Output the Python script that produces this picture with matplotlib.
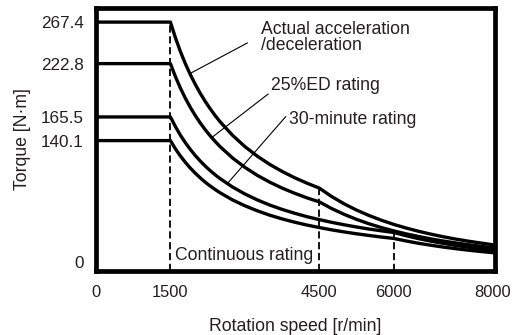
import matplotlib.pyplot as plt

plt.rcParams['font.family'] = ['Liberation Sans', 'DejaVu Sans']

# Data
speed = [0, 1500, 1600, 1700, 1800, 1900, 2000, 2100, 2200, 2300, 2400, 2500,
         2750, 3000, 3250, 3500, 3750, 4000, 4250, 4500, 4750, 5000, 5250, 5500,
         5750, 6000, 6250, 6500, 6750, 7000, 7250, 7500, 7750, 8000]
accel_decel = [267.4, 267.4, 250.7, 235.9, 222.8, 211.1, 200.6, 191.0, 182.3, 174.4, 167.1, 160.4,
               145.9, 133.7, 123.4, 114.6, 107.0, 100.3, 94.4, 89.1, 80.0, 72.2, 65.5, 59.7,
               54.6, 50.1, 46.2, 42.7, 39.6, 36.8, 34.3, 32.1, 30.1, 28.2]
ed25 = [222.8, 222.8, 208.9, 196.6, 185.7, 175.9, 167.1, 159.1, 151.9, 145.3, 139.3, 133.7,
        121.5, 111.4, 102.8, 95.5, 89.1, 83.6, 78.6, 74.3, 67.1, 60.9, 55.5, 50.8,
        46.7, 43.1, 39.9, 37.1, 34.5, 32.2, 30.2, 28.3, 26.6, 25.0]
min30 = [165.5, 165.5, 155.2, 146.0, 137.9, 130.7, 124.1, 118.2, 112.8, 107.9, 103.4, 99.3,
         90.3, 82.8, 76.4, 70.9, 66.2, 62.1, 58.4, 55.2, 52.3, 49.7, 47.3, 45.1,
         43.2, 41.4, 37.9, 34.8, 32.1, 29.7, 27.5, 25.6, 23.9, 22.3]
continuous = [140.1, 140.1, 131.3, 123.6, 116.8, 110.6, 105.1, 100.1, 95.5, 91.4, 87.6, 84.1,
              76.4, 70.1, 64.7, 60.0, 56.0, 52.5, 49.4, 46.7, 44.2, 42.0, 40.0, 38.2,
              36.5, 35.0, 32.3, 29.8, 27.7, 25.7, 24.0, 22.4, 21.0, 19.7]

x_ticks = [0, 1500, 4500, 6000, 8000]
y_ticks = [0, 140.1, 165.5, 222.8, 267.4]
y_tick_labels = ['0', '140.1', '165.5', '222.8', '267.4']

# vertical dashed markers: (speed, height)
markers = [(1500, 267.4), (4500, 89.1), (6000, 41.4)]

txt = '#231f20'

fig = plt.figure(figsize=(5.14, 3.35), dpi=100)
ax = fig.add_axes([0.1868, 0.191, 0.776, 0.785])

for s in [accel_decel, ed25, min30, continuous]:
    ax.plot(speed, s, color='black', lw=2.4, solid_joinstyle='round')

for xs, h in markers:
    ax.plot([xs, xs], [0, h], color='black', lw=1.3, dashes=(4, 2))

# leader lines and curve labels
ax.plot([1890, 3050], [212, 245], color='black', lw=0.8)
ax.plot([2346, 3469], [143.9, 190.1], color='black', lw=0.8)
ax.plot([2652, 3823], [94.2, 165.8], color='black', lw=0.8)

ax.text(3322, 237.4, 'Actual acceleration\n/deceleration', fontsize=12.7,
        color=txt, ha='left', va='baseline', linespacing=0.9)
ax.text(3523, 194.4, '25%ED rating', fontsize=12.7, color=txt, ha='left', va='baseline')
ax.text(3890, 157.9, '30-minute rating', fontsize=12.7, color=txt, ha='left', va='baseline')
ax.text(1584, 11.8, 'Continuous rating', fontsize=12.7, color=txt, ha='left', va='baseline')

ax.set_xlim(0, 8040)
ax.set_ylim(0, 282.5)
ax.set_xticks(x_ticks)
ax.set_yticks(y_ticks)
ax.set_yticklabels(y_tick_labels)
ax.tick_params(axis='both', length=0, labelcolor=txt)
ax.tick_params(axis='x', pad=10, labelsize=11.9)
ax.tick_params(axis='y', pad=9, labelsize=12.3)
ax.get_yticklabels()[0].set_va('bottom')

for sp in ax.spines.values():
    sp.set_linewidth(3.4)

ax.set_xlabel('Rotation speed [r/min]', fontsize=12.7, color=txt)
ax.set_ylabel('Torque [N\u00b7m]', fontsize=12.7, color=txt)
ax.xaxis.set_label_coords(0.5, -0.178)
ax.yaxis.set_label_coords(-0.163, 0.5)

fig.savefig('out.png', dpi=100)
